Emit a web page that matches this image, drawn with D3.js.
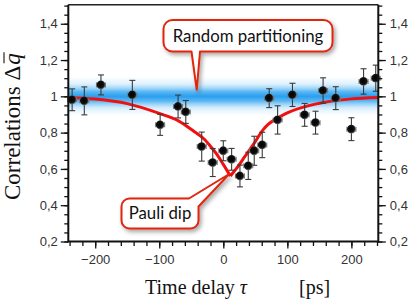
<!DOCTYPE html>
<html>
<head>
<meta charset="utf-8">
<script src="https://cdn.jsdelivr.net/npm/d3@7"></script>
<style>
  html, body { margin: 0; padding: 0; background: #ffffff; }
  svg { display: block; }
</style>
</head>
<body>
<svg id="chart"></svg>
<script>
'use strict';

// measured points (time delay in ps, correlation, errors)
const tauValues = [-236, -217, -191, -142, -98.6, -70.6, -58.6, -33.7, -16.5, 0, 13, 26, 39, 48.3, 60.8,
                   71.7, 84.8, 108, 127, 144, 155.8, 175.6, 200, 219, 238];
const corrValues = [0.981, 0.975, 1.063, 1.008, 0.843, 0.944, 0.914, 0.723, 0.635, 0.70, 0.653, 0.561, 0.617, 0.70, 0.732,
                    0.99, 0.87, 1.008, 0.898, 0.855, 1.032, 0.99, 0.819, 1.082, 1.10];
const corrErrors = [0.06, 0.077, 0.055, 0.08, 0.058, 0.063, 0.063, 0.08, 0.077, 0.055, 0.06, 0.06, 0.075, 0.08, 0.07,
                    0.052, 0.078, 0.064, 0.063, 0.063, 0.07, 0.063, 0.063, 0.07, 0.072];
const tauErrors = [7, 7, 7, 7, 7, 7, 7, 7, 7, 7, 7, 7, 7, 7, 7, 7, 7, 7, 7, 7, 7, 7, 7, 7, 7];

// fit curve, split at the cusp
const fitLeftTau = [-242, -200, -150, -100, -70, -47, -30, -20, -10, 0, 11];
const fitLeftCorr = [0.994, 0.985, 0.960, 0.906, 0.865, 0.81, 0.765, 0.725, 0.68, 0.625, 0.561];
const fitRightTau = [11, 20, 34, 47, 62, 70, 85, 99, 150, 200, 242];
const fitRightCorr = [0.561, 0.60, 0.67, 0.735, 0.815, 0.845, 0.88, 0.907, 0.962, 0.986, 0.994];

// "random partitioning" level
const bandLow = 0.89;
const bandHigh = 1.11;

// ticks
const xMajorTicks = [-200, -100, 0, 100, 200];
const xMajorLabels = ["\u2212200", "\u2212100", "0", "100", "200"];
const yMajorTicks = [0.2, 0.4, 0.6, 0.8, 1.0, 1.2, 1.4];
const yMajorLabels = ["0,2", "0,4", "0,6", "0,8", "1", "1,2", "1,4"];

const width = 415, height = 300;
const margin = {top: 4.7, right: 36.7, bottom: 58.5, left: 68.3};

const svg = d3.select("#chart").attr("width", width).attr("height", height);
const defs = svg.append("defs");

const x = d3.scaleLinear().domain([-242, 242]).range([margin.left, width - margin.right]);
const y = d3.scaleLinear().domain([0.2, 1.505]).range([height - margin.bottom, margin.top]);

// blue band gradient
const grad = defs.append("linearGradient").attr("id", "bandGrad")
    .attr("x1", 0).attr("y1", 0).attr("x2", 0).attr("y2", 1);
[[0, "#d8eefd", 0], [0.2, "#bfe3fb", 0.6], [0.38, "#5cb8f4", 1], [0.5, "#2a9ff0", 1],
 [0.62, "#5cb8f4", 1], [0.8, "#bfe3fb", 0.6], [1, "#d8eefd", 0]].forEach(s => {
    grad.append("stop").attr("offset", s[0]).attr("stop-color", s[1]).attr("stop-opacity", s[2]);
});

const shadow = defs.append("filter").attr("id", "shadow")
    .attr("x", "-20%").attr("y", "-20%").attr("width", "140%").attr("height", "160%");
shadow.append("feDropShadow").attr("dx", 2).attr("dy", 2.5).attr("stdDeviation", 2)
    .attr("flood-color", "#000").attr("flood-opacity", 0.35);

const marker = defs.append("radialGradient").attr("id", "dotGrad")
    .attr("cx", "45%").attr("cy", "45%").attr("r", "55%");
marker.append("stop").attr("offset", 0).attr("stop-color", "#000");
marker.append("stop").attr("offset", 0.7).attr("stop-color", "#111");
marker.append("stop").attr("offset", 1).attr("stop-color", "#777");

// band
svg.append("rect")
    .attr("x", x(-242)).attr("width", x(242) - x(-242))
    .attr("y", y(bandHigh)).attr("height", y(bandLow) - y(bandHigh))
    .attr("fill", "url(#bandGrad)");

// fit curve
const fitLine = d3.line().x(d => x(d[0])).y(d => y(d[1])).curve(d3.curveMonotoneX);
[[fitLeftTau, fitLeftCorr], [fitRightTau, fitRightCorr]].forEach(branch => {
    svg.append("path")
        .datum(d3.zip(branch[0], branch[1]))
        .attr("d", fitLine)
        .attr("fill", "none")
        .attr("stroke", "#f01010")
        .attr("stroke-width", 3)
        .attr("stroke-linejoin", "round");
});

// error bars and points
const pts = d3.range(tauValues.length).map(i => ({
    t: tauValues[i], c: corrValues[i], ce: corrErrors[i], te: tauErrors[i]
}));
const capW = 3;
const eb = svg.append("g").attr("stroke", "#3a3a3a").attr("stroke-width", 1.1).attr("fill", "none");
pts.forEach(d => {
    const px = x(d.t), y0 = y(d.c - d.ce), y1 = y(d.c + d.ce);
    eb.append("line").attr("x1", px).attr("x2", px).attr("y1", y0).attr("y2", y1);
    eb.append("line").attr("x1", px - capW).attr("x2", px + capW).attr("y1", y0).attr("y2", y0);
    eb.append("line").attr("x1", px - capW).attr("x2", px + capW).attr("y1", y1).attr("y2", y1);
    const x0 = x(d.t - d.te), x1 = x(d.t + d.te), py = y(d.c);
    eb.append("line").attr("x1", x0).attr("x2", x1).attr("y1", py).attr("y2", py).attr("stroke", "#666");
    eb.append("line").attr("x1", x0).attr("x2", x0).attr("y1", py - 2.5).attr("y2", py + 2.5).attr("stroke", "#777");
    eb.append("line").attr("x1", x1).attr("x2", x1).attr("y1", py - 2.5).attr("y2", py + 2.5).attr("stroke", "#777");
});
svg.append("g").selectAll("circle").data(pts).enter().append("circle")
    .attr("cx", d => x(d.t)).attr("cy", d => y(d.c)).attr("r", 4.4)
    .attr("fill", "url(#dotGrad)");

// axes
const tickFont = "'Liberation Sans', Arial, sans-serif";
const xMinor = d3.range(-240, 241, 20);
const yMinor = d3.range(0.2, 1.5001, 0.05);
const bottomY = height - margin.bottom;
const rightX = width - margin.right;

function styleAxis(g, labels) {
    g.select(".domain").remove();
    g.selectAll("line").attr("stroke", "#111").attr("stroke-width", 1.3);
    g.selectAll("text").attr("font-family", tickFont).attr("font-size", 13).attr("fill", "#333");
    if (!labels) g.selectAll("text").remove();
}

svg.append("g").attr("transform", `translate(0,${bottomY})`)
    .call(d3.axisBottom(x).tickValues(xMinor).tickSize(4.5).tickFormat(""))
    .call(g => styleAxis(g, false));
svg.append("g").attr("transform", `translate(0,${bottomY})`)
    .call(d3.axisBottom(x).tickValues(xMajorTicks).tickSize(7).tickPadding(6)
        .tickFormat((d, i) => xMajorLabels[i]))
    .call(g => styleAxis(g, true));

svg.append("g").attr("transform", `translate(${margin.left},0)`)
    .call(d3.axisLeft(y).tickValues(yMinor).tickSize(4).tickFormat(""))
    .call(g => styleAxis(g, false));
svg.append("g").attr("transform", `translate(${margin.left},0)`)
    .call(d3.axisLeft(y).tickValues(yMajorTicks).tickSize(7.5).tickPadding(3)
        .tickFormat((d, i) => yMajorLabels[i]))
    .call(g => styleAxis(g, true));

svg.append("g").attr("transform", `translate(${rightX},0)`)
    .call(d3.axisRight(y).tickValues(yMinor).tickSize(4).tickFormat(""))
    .call(g => styleAxis(g, false));
svg.append("g").attr("transform", `translate(${rightX},0)`)
    .call(d3.axisRight(y).tickValues(yMajorTicks).tickSize(7.5).tickPadding(4)
        .tickFormat((d, i) => yMajorLabels[i]))
    .call(g => styleAxis(g, true));

// frame
svg.append("line").attr("x1", margin.left).attr("x2", rightX).attr("y1", margin.top).attr("y2", margin.top)
    .attr("stroke", "#222").attr("stroke-width", 1.4);
svg.append("path")
    .attr("d", `M${margin.left},${margin.top}V${bottomY}H${rightX}V${margin.top}`)
    .attr("fill", "none").attr("stroke", "#111").attr("stroke-width", 2);

// axis titles
const serif = "'Liberation Serif', 'Times New Roman', serif";
const xt = svg.append("text").attr("x", 145).attr("y", 294)
    .attr("font-family", serif).attr("font-size", 20).attr("fill", "#111");
xt.append("tspan").text("Time delay ");
xt.append("tspan").attr("font-style", "italic").text("\u03c4");
xt.append("tspan").attr("x", 299).text("[ps]");

const ytG = svg.append("g").attr("transform", "translate(19.5,200) rotate(-90)");
const yt = ytG.append("text")
    .attr("font-family", serif).attr("font-size", 23).attr("fill", "#111");
yt.append("tspan").text("Correlations \u0394");
yt.append("tspan").attr("font-style", "italic").attr("dx", 1).text("q");
{
    const tn = yt.node();
    const n = tn.getNumberOfChars();
    const ext = tn.getExtentOfChar(n - 1);
    ytG.append("line")
        .attr("x1", ext.x + 1.5).attr("x2", ext.x + ext.width + 1)
        .attr("y1", -15.5).attr("y2", -15.5)
        .attr("stroke", "#111").attr("stroke-width", 1.1);
}

// callouts
const calloutFont = "Lato, 'Open Sans', sans-serif";
function callout(pathD, label, tx, ty) {
    svg.append("path").attr("d", pathD)
        .attr("fill", "#ffffff").attr("stroke", "#e0260c").attr("stroke-width", 2)
        .attr("stroke-linejoin", "round").attr("filter", "url(#shadow)");
    svg.append("text").attr("x", tx).attr("y", ty).attr("text-anchor", "middle")
        .attr("font-family", calloutFont).attr("font-size", 16.8).attr("fill", "#111").text(label);
}

{
    const x0 = 163.5, y0 = 20, x1 = 332.5, y1 = 51.5, r = 9;
    const tx = x(-41.5), ty = y(1.036);
    const d = `M${x0 + r},${y0}H${x1 - r}A${r},${r} 0 0 1 ${x1},${y0 + r}V${y1 - r}` +
        `A${r},${r} 0 0 1 ${x1 - r},${y1}H200L${tx},${ty}L191.5,${y1}H${x0 + r}` +
        `A${r},${r} 0 0 1 ${x0},${y1 - r}V${y0 + r}A${r},${r} 0 0 1 ${x0 + r},${y0}Z`;
    callout(d, "Random partitioning", (x0 + x1) / 2, 41.8);
}
{
    const x0 = 121.5, y0 = 198.5, x1 = 198.5, y1 = 228.5, r = 8;
    const tx = x(9.3), ty = y(0.572);
    const d = `M${x0 + r},${y0}H189L${tx},${ty}L${x1},${y0 + 8}V${y1 - r}` +
        `A${r},${r} 0 0 1 ${x1 - r},${y1}H${x0 + r}` +
        `A${r},${r} 0 0 1 ${x0},${y1 - r}V${y0 + r}A${r},${r} 0 0 1 ${x0 + r},${y0}Z`;
    callout(d, "Pauli dip", (x0 + x1) / 2, 219.3);
}
</script>
</body>
</html>
